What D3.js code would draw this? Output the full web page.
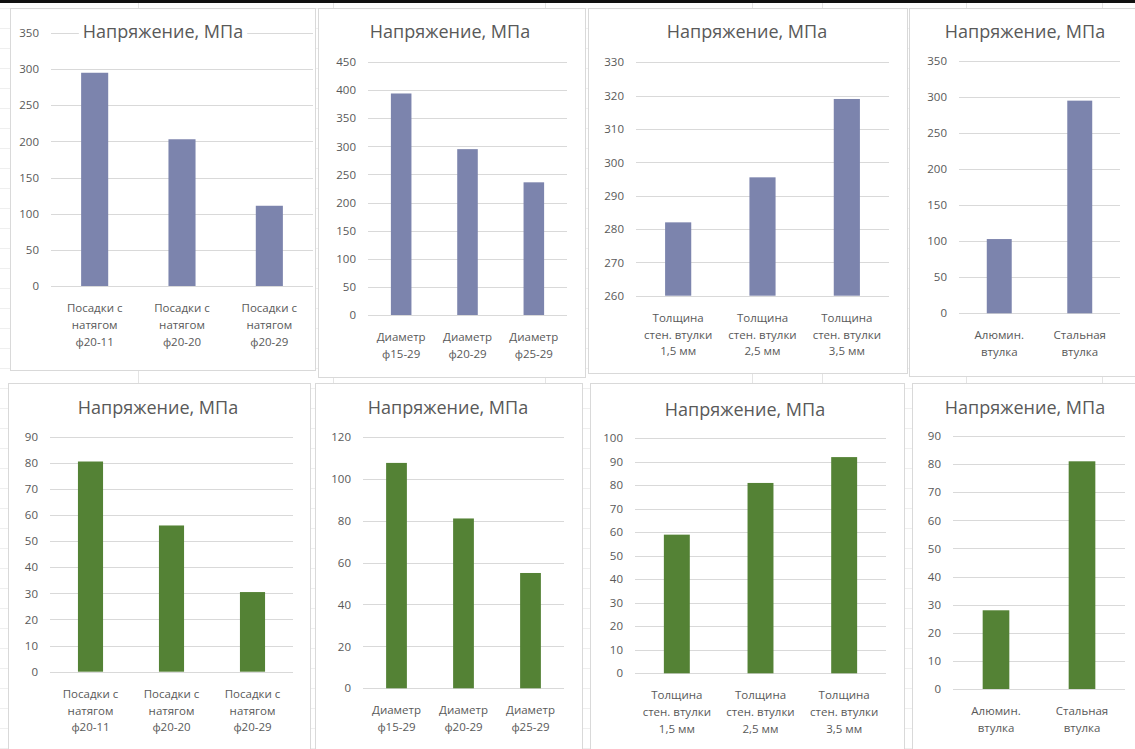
<!DOCTYPE html>
<html><head><meta charset="utf-8">
<script src="https://cdn.jsdelivr.net/npm/d3@7"></script>
<style>body{margin:0;background:#fff}svg{display:block}</style>
</head><body>
<script>
// ---- data ----
const chartTitle = "Напряжение, МПа";
const fitCategories = [["Посадки с","натягом","ф20-11"],["Посадки с","натягом","ф20-20"],["Посадки с","натягом","ф20-29"]];
const diamCategories = [["Диаметр","ф15-29"],["Диаметр","ф20-29"],["Диаметр","ф25-29"]];
const wallCategories = [["Толщина","стен. втулки","1,5 мм"],["Толщина","стен. втулки","2,5 мм"],["Толщина","стен. втулки","3,5 мм"]];
const sleeveCategories = [["Алюмин.","втулка"],["Стальная","втулка"]];

const fitStressTop = [295, 203, 111];
const diamStressTop = [394, 295, 236];
const wallStressTop = [282, 295.5, 319];
const sleeveStressTop = [103, 295];
const fitStressBottom = [80.5, 56, 30.5];
const diamStressBottom = [107.5, 81, 55];
const wallStressBottom = [59, 81, 92];
const sleeveStressBottom = [28, 81];

const ticksFitTop = [0,50,100,150,200,250,300,350];
const ticksDiamTop = [0,50,100,150,200,250,300,350,400,450];
const ticksWallTop = [260,270,280,290,300,310,320,330];
const ticksSleeveTop = [0,50,100,150,200,250,300,350];
const ticksFitBottom = [0,10,20,30,40,50,60,70,80,90];
const ticksDiamBottom = [0,20,40,60,80,100,120];
const ticksWallBottom = [0,10,20,30,40,50,60,70,80,90,100];
const ticksSleeveBottom = [0,10,20,30,40,50,60,70,80,90];

// ---- layout / style ----
const blue = "#7c84ad", green = "#548235";
const panels = [
  {cats: fitCategories, vals: fitStressTop, ticks: ticksFitTop, color: blue,
   frame:[10,8,305,362], px:[51,313], py:[286,33], tx:163, ty:38},
  {cats: diamCategories, vals: diamStressTop, ticks: ticksDiamTop, color: blue,
   frame:[318,8,267,369], px:[368,567], py:[315,62], tx:450, ty:38},
  {cats: wallCategories, vals: wallStressTop, ticks: ticksWallTop, color: blue,
   frame:[588,8,319,365], px:[636,889], py:[295.7,62.3], tx:747, ty:38},
  {cats: sleeveCategories, vals: sleeveStressTop, ticks: ticksSleeveTop, color: blue,
   frame:[909,8,240,368], px:[959,1120], py:[313.3,61], tx:1025, ty:38},
  {cats: fitCategories, vals: fitStressBottom, ticks: ticksFitBottom, color: green,
   frame:[8,383,302,380], px:[50,293], py:[671.7,436.7], tx:158, ty:414},
  {cats: diamCategories, vals: diamStressBottom, ticks: ticksDiamBottom, color: green,
   frame:[315,383,267,380], px:[363,564], py:[688.3,436.7], tx:448, ty:414},
  {cats: wallCategories, vals: wallStressBottom, ticks: ticksWallBottom, color: green,
   frame:[590,383,314,380], px:[635,886], py:[673.3,438.3], tx:745, ty:416},
  {cats: sleeveCategories, vals: sleeveStressBottom, ticks: ticksSleeveBottom, color: green,
   frame:[912,383,240,380], px:[953,1125], py:[689,436], tx:1025, ty:414}
];

const W = 1135, H = 749;
const svg = d3.select("body").append("svg").attr("width", W).attr("height", H)
  .style("font-family", "'Open Sans', sans-serif");

// worksheet background cell lines
const bg = svg.append("g");
bg.selectAll("line.r").data(d3.range(8, H, 20)).join("line")
  .attr("x1",0).attr("x2",W).attr("y1",d=>d+0.5).attr("y2",d=>d+0.5)
  .attr("stroke","#efefef");
bg.selectAll("line.c").data([138,333,545,752,822,966,1102]).join("line")
  .attr("x1",d=>d+0.5).attr("x2",d=>d+0.5).attr("y1",0).attr("y2",H)
  .attr("stroke","#e4e4e4");
svg.append("rect").attr("x",0).attr("y",0).attr("width",W).attr("height",3).attr("fill","#111");

panels.forEach(p => {
  const g = svg.append("g");
  g.append("rect").attr("x", p.frame[0]+0.5).attr("y", p.frame[1]+0.5)
    .attr("width", p.frame[2]).attr("height", p.frame[3])
    .attr("fill", "#fff").attr("stroke", "#d9d9d9");

  const y = d3.scaleLinear().domain(d3.extent(p.ticks)).range(p.py);
  const x = d3.scaleBand().domain(d3.range(p.vals.length)).range(p.px)
    .paddingInner(0.69).paddingOuter(0.345);

  // gridlines
  g.selectAll("line.grid").data(p.ticks).join("line")
    .attr("x1", p.px[0]).attr("x2", p.px[1])
    .attr("y1", d => Math.round(y(d))+0.5).attr("y2", d => Math.round(y(d))+0.5)
    .attr("stroke", "#d9d9d9");

  // y axis labels via d3 axis
  const ax = g.append("g").attr("transform", `translate(${p.px[0]-3},0)`)
    .call(d3.axisLeft(y).tickValues(p.ticks).tickSize(0).tickPadding(9).tickFormat(d3.format("d")));
  ax.select(".domain").remove();
  ax.selectAll("text").attr("fill", "#595959").style("font-size", "11.5px")
    .style("font-family", "'Open Sans', sans-serif");

  // bars
  const y0 = d3.extent(p.ticks)[0];
  g.selectAll("rect.bar").data(p.vals).join("rect")
    .attr("x", (d,i) => x(i)).attr("width", x.bandwidth())
    .attr("y", d => y(d)).attr("height", d => y(y0) - y(d))
    .attr("fill", p.color);

  // category labels
  p.cats.forEach((lines, i) => {
    const t = g.append("text").attr("text-anchor","middle").attr("fill","#595959")
      .style("font-size","11.5px");
    lines.forEach((ln, k) => {
      t.append("tspan").attr("x", x(i) + x.bandwidth()/2)
        .attr("y", p.py[0] + 26 + k*16.8).text(ln);
    });
  });

  // title
  const tt = g.append("text").attr("x", p.tx).attr("y", p.ty).attr("text-anchor","middle")
    .attr("fill","#595959").style("font-size","18px").text(chartTitle);
  const bb = tt.node().getBBox();
  g.insert("rect", () => tt.node()).attr("x", bb.x-4).attr("y", bb.y+2)
    .attr("width", bb.width+8).attr("height", bb.height-4).attr("fill","#fff");
});
</script>
</body></html>
